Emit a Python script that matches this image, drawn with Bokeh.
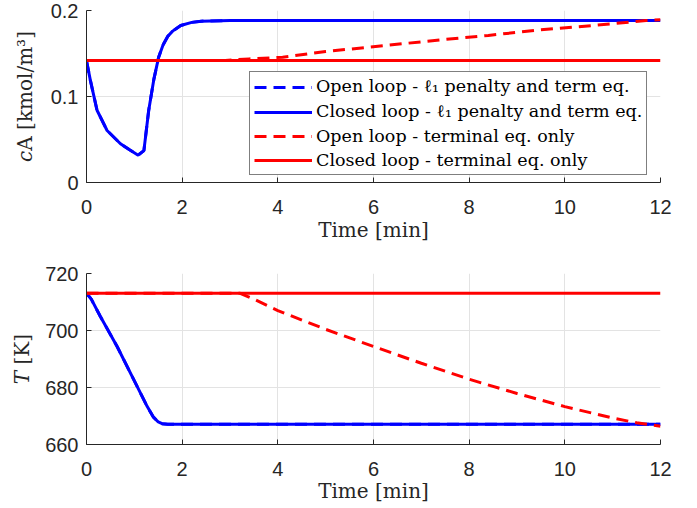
from bokeh.plotting import figure
from bokeh.layouts import column
from bokeh.models import Legend, LegendItem, FixedTicker
from bokeh.embed import file_html
from bokeh.resources import INLINE

# ---- data ----
t_cl_blue = [0, 0.08, 0.22, 0.43, 0.71, 0.9, 1.08, 1.2, 1.3, 1.41, 1.51, 1.6, 1.7, 1.8, 1.97, 2.2, 2.4, 3.0, 12]
ca_cl_blue = [0.1414, 0.119, 0.084, 0.0605, 0.045, 0.038, 0.0318, 0.037, 0.0837, 0.1205, 0.146, 0.160, 0.170, 0.176, 0.1826, 0.1862, 0.1876, 0.1884, 0.1885]
ca_ol_blue = list(ca_cl_blue)

t_red_cl = [0, 12]
ca_cl_red = [0.1419, 0.1419]
t_ol_red_ca = [0, 2.9, 3.4, 4.1, 5.0, 6.2, 7.4, 8.4, 9.5, 10.6, 11.7, 12]
ca_ol_red = [0.1419, 0.1419, 0.1437, 0.1457, 0.1523, 0.159, 0.1659, 0.171, 0.1775, 0.1826, 0.1884, 0.1892]

t_T_blue = [0, 0.1, 0.29, 0.64, 0.99, 1.27, 1.4, 1.5, 1.58, 1.7, 12]
T_cl_blue = [713.1, 711.0, 704.9, 694.4, 682.7, 673.3, 669.6, 667.9, 667.3, 667.1, 667.1]
T_ol_blue = list(T_cl_blue)

T_cl_red = [713.1, 713.1]
t_ol_red_T = [0, 3.2, 3.5, 4, 5, 6, 7, 8, 9, 10, 11, 11.5, 12]
T_ol_red = [713.1, 713.1, 711.0, 707.0, 700.4, 694.4, 688.5, 682.9, 677.9, 673.3, 669.3, 667.6, 666.4]

x_ticks = [0, 2, 4, 6, 8, 10, 12]
ca_ticks = [0, 0.1, 0.2]
T_ticks = [660, 680, 700, 720]

legend_labels = ["Open loop - ℓ₁ penalty and term eq.",
                 "Closed loop - ℓ₁ penalty and term eq.",
                 "Open loop - terminal eq. only",
                 "Closed loop - terminal eq. only"]

BLUE = "#0000ff"
RED = "#ff0000"
LW = 3
DASH = "12 7"
AXC = "#262626"
GRID = "#e3e3e3"
TICK_FONT = "Liberation Sans"
LAB_FONT = "DejaVu Serif"


def style(p, yticks):
    p.xaxis.ticker = FixedTicker(ticks=x_ticks)
    p.yaxis.ticker = FixedTicker(ticks=yticks)
    for ax in (p.xaxis[0], p.yaxis[0]):
        ax.major_tick_in = 5
        ax.major_tick_out = 0
        ax.minor_tick_in = 0
        ax.minor_tick_out = 0
        ax.axis_line_color = AXC
        ax.major_tick_line_color = AXC
        ax.major_label_text_color = AXC
        ax.major_label_text_font = TICK_FONT
        ax.major_label_text_font_size = "20px"
        ax.axis_label_text_font = LAB_FONT
        ax.axis_label_text_font_size = "20px"
        ax.axis_label_text_font_style = "normal"
        ax.axis_label_text_color = AXC
    p.xaxis.major_label_standoff = 17
    p.yaxis.major_label_standoff = 8
    p.xaxis.axis_label_standoff = 1
    p.yaxis.axis_label_standoff = 8
    p.xgrid.grid_line_color = GRID
    p.ygrid.grid_line_color = GRID
    p.outline_line_color = None
    p.background_fill_color = "white"
    p.border_fill_color = "white"


W = 681
p1 = figure(width=W, height=250, x_range=(0, 12), y_range=(0, 0.2),
            output_backend="svg", toolbar_location=None,
            min_border_left=86, min_border_right=21, min_border_top=10, min_border_bottom=68)
style(p1, ca_ticks)
p1.xaxis.axis_label = "Time [min]"
p1.yaxis.axis_label = "𝑐A [kmol/m³]"
p1.yaxis.axis_label_standoff = 11

r1 = p1.line(t_cl_blue, ca_ol_blue, line_color=BLUE, line_width=LW, line_dash=DASH)
r2 = p1.line(t_cl_blue, ca_cl_blue, line_color=BLUE, line_width=LW)
r3 = p1.line(t_ol_red_ca, ca_ol_red, line_color=RED, line_width=LW, line_dash=DASH)
r4 = p1.line(t_red_cl, ca_cl_red, line_color=RED, line_width=LW)

legend = Legend(items=[LegendItem(label=legend_labels[i], renderers=[r])
                       for i, r in enumerate([r1, r2, r3, r4])],
                location=(163, 7))
legend.glyph_width = 58
legend.glyph_height = 20
legend.label_height = 20
legend.spacing = 4
legend.padding = 4
legend.margin = 0
legend.label_standoff = 4
legend.label_text_font = LAB_FONT
legend.label_text_font_size = "17.5px"
legend.label_text_color = "black"
legend.border_line_color = "black"
legend.border_line_width = 1
legend.background_fill_color = "white"
legend.background_fill_alpha = 1
p1.add_layout(legend, "center")

p2 = figure(width=W, height=255, x_range=(0, 12), y_range=(660, 720),
            output_backend="svg", toolbar_location=None,
            min_border_left=86, min_border_right=21, min_border_top=23, min_border_bottom=60)
style(p2, T_ticks)
p2.xaxis.axis_label = "Time [min]"
p2.xaxis.axis_label_standoff = 0
p2.yaxis.axis_label = "𝑇 [K]"

p2.line(t_T_blue, T_ol_blue, line_color=BLUE, line_width=LW, line_dash=DASH)
p2.line(t_T_blue, T_cl_blue, line_color=BLUE, line_width=LW)
p2.line(t_ol_red_T, T_ol_red, line_color=RED, line_width=LW, line_dash=DASH)
p2.line(t_red_cl, T_cl_red, line_color=RED, line_width=LW)

layout = column(p1, p2, spacing=0)
open("out.html", "w").write(file_html(layout, INLINE))
